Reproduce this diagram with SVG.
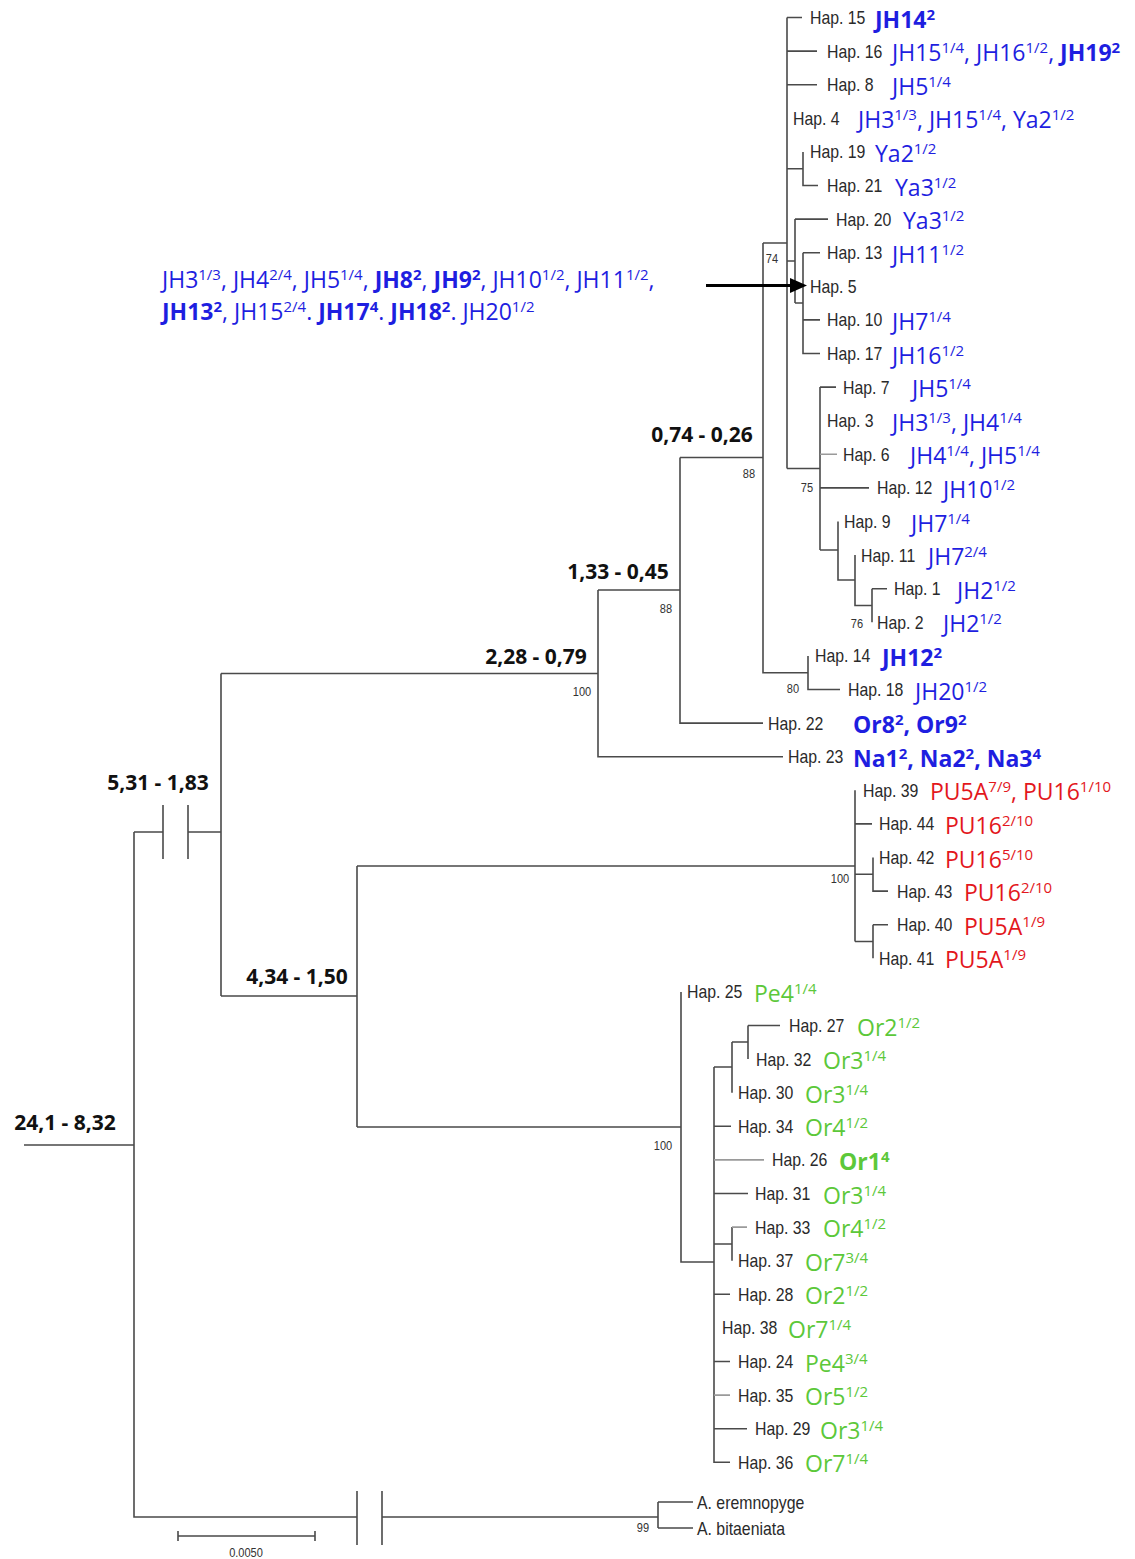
<svg xmlns="http://www.w3.org/2000/svg" width="1135" height="1559" viewBox="0 0 1135 1559">
<style>
.t{fill:none;stroke:#4a4a4a;stroke-width:1.6}
.g{fill:none;stroke:#9a9a9a;stroke-width:1.6}
.h{font-family:"Liberation Sans",Arial,sans-serif;font-size:18px;fill:#2a2a2a}
.sp{font-family:"Liberation Sans",Arial,sans-serif;font-size:13px;fill:#333;text-anchor:middle}
.c{font-family:"Open Sans","Liberation Sans",sans-serif;font-size:23px}
.s{font-size:15px}
.bo{font-weight:700}
.bl{fill:#1e1ee0}
.rd{fill:#e3171c}
.gr{fill:#5cc83a}
.n{font-family:"Open Sans","Liberation Sans",sans-serif;font-size:21px;font-weight:700;fill:#111;text-anchor:middle}
</style>
<rect width="1135" height="1559" fill="#fff"/>
<g id="connectors">
<path class="t" d="M787,17.5 V468.5 M787,17.5 H802 M787,51.1 H817 M787,84.7 H817
M787,168.7 H803 M803,151.9 V185.5 H818
M787,261 H795 M795,219.1 V303 M795,219.1 H828 M795,303 H803 M803,252.7 V353.5 H820 M803,252.7 H820 M803,319.9 H820
M763,243 H787
M787,468.5 H820 M820,387.1 V550 M820,387.1 H836 M820,487.9 H869
M820,550 H838 M838,521.5 V580 H855 M855,555.1 V605.5 H872 M872,588.7 V622.3 M872,588.7 H887
M763,243 V672.7 H808 M808,655.9 V689.5 H840
M680,457.5 H763 M680,457.5 V723.1 H763
M598,590 H680 M598,590 V756.7 H783
M221,673.5 H598 M221,673.5 V996
M221,832 H188 M163,832 H134 M188,805 V859 M163,805 V859
M221,996 H357 M357,866 V1127
M357,866 H855 M855,790.3 V941.5 M855,823.9 H872 M855,874.3 H873 M873,857.5 V891.1 H888 M855,941.5 H873 M873,924.7 V958.3 M873,924.7 H888
M357,1127 H681 M681,991.9 V1262 H714 M714,1067 V1462.3 H730
M714,1067 H732 M732,1042 V1092.7 M732,1042 H748 M748,1025.5 V1059.1 M748,1025.5 H780
M714,1126.3 H731 M714,1193.5 H748 M714,1244 H732 M732,1227.1 V1260.7
M714,1294.3 H730 M714,1361.5 H730 M714,1428.7 H747
M134,832 V1517 H357 M382,1517 H658 M357,1491 V1545 M382,1491 V1545 M658,1502 V1528 M658,1502 H693 M658,1528 H693
M24,1145 H134
M178,1536 H315 M178,1531 V1541 M315,1531 V1541"/>
<path class="g" d="M820,454.3 H837 M714,1159.9 H764 M732,1227.1 H747 M714,1395.1 H730"/>
<path d="M706,285.5 H792" stroke="#000" stroke-width="3" fill="none"/>
<polygon points="790,278 807,285.5 790,293" fill="#000"/>
</g>

<g id="support-values">
<text class="sp" transform="translate(772 263) scale(.85 1)">74</text>
<text class="sp" transform="translate(749 478) scale(.85 1)">88</text>
<text class="sp" transform="translate(666 613) scale(.85 1)">88</text>
<text class="sp" transform="translate(582 696) scale(.85 1)">100</text>
<text class="sp" transform="translate(807 492) scale(.85 1)">75</text>
<text class="sp" transform="translate(857 628) scale(.85 1)">76</text>
<text class="sp" transform="translate(793 693) scale(.85 1)">80</text>
<text class="sp" transform="translate(840 883) scale(.85 1)">100</text>
<text class="sp" transform="translate(663 1150) scale(.85 1)">100</text>
<text class="sp" transform="translate(643 1532) scale(.85 1)">99</text>
</g>

<g id="node-labels">
<text class="n" x="702" y="442">0,74 - 0,26</text>
<text class="n" x="618" y="579">1,33 - 0,45</text>
<text class="n" x="536" y="664">2,28 - 0,79</text>
<text class="n" x="158" y="790">5,31 - 1,83</text>
<text class="n" x="297" y="984">4,34 - 1,50</text>
<text class="n" x="65" y="1130">24,1 - 8,32</text>
</g>

<g id="hap5-note">
<text class="c bl" x="162" y="288">JH3<tspan class="s" dy="-8">1/3</tspan><tspan dy="8">, JH4</tspan><tspan class="s" dy="-8">2/4</tspan><tspan dy="8">, JH5</tspan><tspan class="s" dy="-8">1/4</tspan><tspan dy="8">, </tspan><tspan class="bo">JH8</tspan><tspan class="s bo" dy="-8">2</tspan><tspan dy="8">, </tspan><tspan class="bo">JH9</tspan><tspan class="s bo" dy="-8">2</tspan><tspan dy="8">, JH10</tspan><tspan class="s" dy="-8">1/2</tspan><tspan dy="8">, JH11</tspan><tspan class="s" dy="-8">1/2</tspan><tspan dy="8">,</tspan></text>
<text class="c bl" x="162" y="320"><tspan class="bo">JH13</tspan><tspan class="s bo" dy="-8">2</tspan><tspan dy="8">, JH15</tspan><tspan class="s" dy="-8">2/4</tspan><tspan dy="8">. </tspan><tspan class="bo">JH17</tspan><tspan class="s bo" dy="-8">4</tspan><tspan dy="8">. </tspan><tspan class="bo">JH18</tspan><tspan class="s bo" dy="-8">2</tspan><tspan dy="8">. JH20</tspan><tspan class="s" dy="-8">1/2</tspan></text>
</g>

<g id="hap15"><text class="h" transform="translate(810 24) scale(.88 1)">Hap. 15</text><text class="c bl bo" x="875" y="27.5">JH14<tspan class="s" dy="-8">2</tspan></text></g>
<g id="hap16"><text class="h" transform="translate(827 57.6) scale(.88 1)">Hap. 16</text><text class="c bl" x="892" y="61.1">JH15<tspan class="s" dy="-8">1/4</tspan><tspan dy="8">, JH16</tspan><tspan class="s" dy="-8">1/2</tspan><tspan dy="8">, </tspan><tspan class="bo">JH19</tspan><tspan class="s bo" dy="-8">2</tspan></text></g>
<g id="hap8"><text class="h" transform="translate(827 91.2) scale(.88 1)">Hap. 8</text><text class="c bl" x="892" y="94.7">JH5<tspan class="s" dy="-8">1/4</tspan></text></g>
<g id="hap4"><text class="h" transform="translate(793 124.8) scale(.88 1)">Hap. 4</text><text class="c bl" x="858" y="128.3">JH3<tspan class="s" dy="-8">1/3</tspan><tspan dy="8">, JH15</tspan><tspan class="s" dy="-8">1/4</tspan><tspan dy="8">, Ya2</tspan><tspan class="s" dy="-8">1/2</tspan></text></g>
<g id="hap19"><text class="h" transform="translate(810 158.4) scale(.88 1)">Hap. 19</text><text class="c bl" x="875" y="161.9">Ya2<tspan class="s" dy="-8">1/2</tspan></text></g>
<g id="hap21"><text class="h" transform="translate(827 192) scale(.88 1)">Hap. 21</text><text class="c bl" x="895" y="195.5">Ya3<tspan class="s" dy="-8">1/2</tspan></text></g>
<g id="hap20"><text class="h" transform="translate(836 225.6) scale(.88 1)">Hap. 20</text><text class="c bl" x="903" y="229.1">Ya3<tspan class="s" dy="-8">1/2</tspan></text></g>
<g id="hap13"><text class="h" transform="translate(827 259.2) scale(.88 1)">Hap. 13</text><text class="c bl" x="892" y="262.7">JH11<tspan class="s" dy="-8">1/2</tspan></text></g>
<g id="hap5"><text class="h" transform="translate(810 292.8) scale(.88 1)">Hap. 5</text></g>
<g id="hap10"><text class="h" transform="translate(827 326.4) scale(.88 1)">Hap. 10</text><text class="c bl" x="892" y="329.9">JH7<tspan class="s" dy="-8">1/4</tspan></text></g>
<g id="hap17"><text class="h" transform="translate(827 360) scale(.88 1)">Hap. 17</text><text class="c bl" x="892" y="363.5">JH16<tspan class="s" dy="-8">1/2</tspan></text></g>
<g id="hap7"><text class="h" transform="translate(843 393.6) scale(.88 1)">Hap. 7</text><text class="c bl" x="912" y="397.1">JH5<tspan class="s" dy="-8">1/4</tspan></text></g>
<g id="hap3"><text class="h" transform="translate(827 427.2) scale(.88 1)">Hap. 3</text><text class="c bl" x="892" y="430.7">JH3<tspan class="s" dy="-8">1/3</tspan><tspan dy="8">, JH4</tspan><tspan class="s" dy="-8">1/4</tspan></text></g>
<g id="hap6"><text class="h" transform="translate(843 460.8) scale(.88 1)">Hap. 6</text><text class="c bl" x="910" y="464.3">JH4<tspan class="s" dy="-8">1/4</tspan><tspan dy="8">, JH5</tspan><tspan class="s" dy="-8">1/4</tspan></text></g>
<g id="hap12"><text class="h" transform="translate(877 494.4) scale(.88 1)">Hap. 12</text><text class="c bl" x="943" y="497.9">JH10<tspan class="s" dy="-8">1/2</tspan></text></g>
<g id="hap9"><text class="h" transform="translate(844 528) scale(.88 1)">Hap. 9</text><text class="c bl" x="911" y="531.5">JH7<tspan class="s" dy="-8">1/4</tspan></text></g>
<g id="hap11"><text class="h" transform="translate(861 561.6) scale(.88 1)">Hap. 11</text><text class="c bl" x="928" y="565.1">JH7<tspan class="s" dy="-8">2/4</tspan></text></g>
<g id="hap1"><text class="h" transform="translate(894 595.2) scale(.88 1)">Hap. 1</text><text class="c bl" x="957" y="598.7">JH2<tspan class="s" dy="-8">1/2</tspan></text></g>
<g id="hap2"><text class="h" transform="translate(877 628.8) scale(.88 1)">Hap. 2</text><text class="c bl" x="943" y="632.3">JH2<tspan class="s" dy="-8">1/2</tspan></text></g>
<g id="hap14"><text class="h" transform="translate(815 662.4) scale(.88 1)">Hap. 14</text><text class="c bl bo" x="882" y="665.9">JH12<tspan class="s" dy="-8">2</tspan></text></g>
<g id="hap18"><text class="h" transform="translate(848 696) scale(.88 1)">Hap. 18</text><text class="c bl" x="915" y="699.5">JH20<tspan class="s" dy="-8">1/2</tspan></text></g>
<g id="hap22"><text class="h" transform="translate(768 729.6) scale(.88 1)">Hap. 22</text><text class="c bl bo" x="853" y="733.1">Or8<tspan class="s" dy="-8">2</tspan><tspan dy="8">, Or9</tspan><tspan class="s" dy="-8">2</tspan></text></g>
<g id="hap23"><text class="h" transform="translate(788 763.2) scale(.88 1)">Hap. 23</text><text class="c bl bo" x="853" y="766.7">Na1<tspan class="s" dy="-8">2</tspan><tspan dy="8">, Na2</tspan><tspan class="s" dy="-8">2</tspan><tspan dy="8">, Na3</tspan><tspan class="s" dy="-8">4</tspan></text></g>

<g id="hap39"><text class="h" transform="translate(863 796.8) scale(.88 1)">Hap. 39</text><text class="c rd" x="930" y="800.3">PU5A<tspan class="s" dy="-8">7/9</tspan><tspan dy="8">, PU16</tspan><tspan class="s" dy="-8">1/10</tspan></text></g>
<g id="hap44"><text class="h" transform="translate(879 830.4) scale(.88 1)">Hap. 44</text><text class="c rd" x="945" y="833.9">PU16<tspan class="s" dy="-8">2/10</tspan></text></g>
<g id="hap42"><text class="h" transform="translate(879 864) scale(.88 1)">Hap. 42</text><text class="c rd" x="945" y="867.5">PU16<tspan class="s" dy="-8">5/10</tspan></text></g>
<g id="hap43"><text class="h" transform="translate(897 897.6) scale(.88 1)">Hap. 43</text><text class="c rd" x="964" y="901.1">PU16<tspan class="s" dy="-8">2/10</tspan></text></g>
<g id="hap40"><text class="h" transform="translate(897 931.2) scale(.88 1)">Hap. 40</text><text class="c rd" x="964" y="934.7">PU5A<tspan class="s" dy="-8">1/9</tspan></text></g>
<g id="hap41"><text class="h" transform="translate(879 964.8) scale(.88 1)">Hap. 41</text><text class="c rd" x="945" y="968.3">PU5A<tspan class="s" dy="-8">1/9</tspan></text></g>

<g id="hap25"><text class="h" transform="translate(687 998.4) scale(.88 1)">Hap. 25</text><text class="c gr" x="754" y="1001.9">Pe4<tspan class="s" dy="-8">1/4</tspan></text></g>
<g id="hap27"><text class="h" transform="translate(789 1032) scale(.88 1)">Hap. 27</text><text class="c gr" x="857" y="1035.5">Or2<tspan class="s" dy="-8">1/2</tspan></text></g>
<g id="hap32"><text class="h" transform="translate(756 1065.6) scale(.88 1)">Hap. 32</text><text class="c gr" x="823" y="1069.1">Or3<tspan class="s" dy="-8">1/4</tspan></text></g>
<g id="hap30"><text class="h" transform="translate(738 1099.2) scale(.88 1)">Hap. 30</text><text class="c gr" x="805" y="1102.7">Or3<tspan class="s" dy="-8">1/4</tspan></text></g>
<g id="hap34"><text class="h" transform="translate(738 1132.8) scale(.88 1)">Hap. 34</text><text class="c gr" x="805" y="1136.3">Or4<tspan class="s" dy="-8">1/2</tspan></text></g>
<g id="hap26"><text class="h" transform="translate(772 1166.4) scale(.88 1)">Hap. 26</text><text class="c gr bo" x="839" y="1169.9">Or1<tspan class="s" dy="-8">4</tspan></text></g>
<g id="hap31"><text class="h" transform="translate(755 1200) scale(.88 1)">Hap. 31</text><text class="c gr" x="823" y="1203.5">Or3<tspan class="s" dy="-8">1/4</tspan></text></g>
<g id="hap33"><text class="h" transform="translate(755 1233.6) scale(.88 1)">Hap. 33</text><text class="c gr" x="823" y="1237.1">Or4<tspan class="s" dy="-8">1/2</tspan></text></g>
<g id="hap37"><text class="h" transform="translate(738 1267.2) scale(.88 1)">Hap. 37</text><text class="c gr" x="805" y="1270.7">Or7<tspan class="s" dy="-8">3/4</tspan></text></g>
<g id="hap28"><text class="h" transform="translate(738 1300.8) scale(.88 1)">Hap. 28</text><text class="c gr" x="805" y="1304.3">Or2<tspan class="s" dy="-8">1/2</tspan></text></g>
<g id="hap38"><text class="h" transform="translate(722 1334.4) scale(.88 1)">Hap. 38</text><text class="c gr" x="788" y="1337.9">Or7<tspan class="s" dy="-8">1/4</tspan></text></g>
<g id="hap24"><text class="h" transform="translate(738 1368) scale(.88 1)">Hap. 24</text><text class="c gr" x="805" y="1371.5">Pe4<tspan class="s" dy="-8">3/4</tspan></text></g>
<g id="hap35"><text class="h" transform="translate(738 1401.6) scale(.88 1)">Hap. 35</text><text class="c gr" x="805" y="1405.1">Or5<tspan class="s" dy="-8">1/2</tspan></text></g>
<g id="hap29"><text class="h" transform="translate(755 1435.2) scale(.88 1)">Hap. 29</text><text class="c gr" x="820" y="1438.7">Or3<tspan class="s" dy="-8">1/4</tspan></text></g>
<g id="hap36"><text class="h" transform="translate(738 1468.8) scale(.88 1)">Hap. 36</text><text class="c gr" x="805" y="1472.3">Or7<tspan class="s" dy="-8">1/4</tspan></text></g>

<g id="outgroup1"><text class="h" transform="translate(697 1508.5) scale(.88 1)">A. eremnopyge</text></g>
<g id="outgroup2"><text class="h" transform="translate(697 1534.5) scale(.88 1)">A. bitaeniata</text></g>
<g id="scale-bar"><text class="sp" transform="translate(246 1557) scale(.85 1)">0.0050</text></g>
</svg>
